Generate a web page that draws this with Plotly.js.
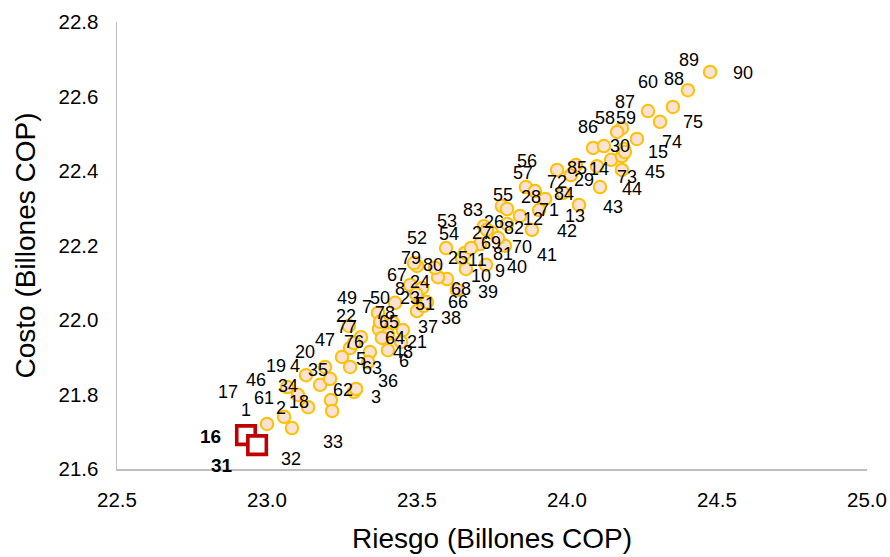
<!DOCTYPE html>
<html>
<head>
<meta charset="utf-8">
<script src="https://cdn.plot.ly/plotly-3.0.1.min.js"></script>
<style>html,body{margin:0;padding:0;background:#fff}#chart{width:890px;height:557px}</style>
</head>
<body>
<div id="chart"></div>
<script>
// ---- data ----
const escenarios = [1,2,3,4,5,6,7,8,9,10,11,12,13,14,15,16,17,18,19,20,21,22,23,24,25,26,27,28,29,30,
  31,32,33,34,35,36,37,38,39,40,41,42,43,44,45,46,47,48,49,50,51,52,53,54,55,56,57,58,59,60,
  61,62,63,64,65,66,67,68,69,70,71,72,73,74,75,76,77,78,79,80,81,82,83,84,85,86,87,88,89,90];
const riesgo = [23.000,23.137,23.290,23.193,23.277,23.343,23.420,23.517,23.663,23.600,
  23.650,23.843,24.013,24.147,24.183,22.930,23.057,23.213,23.130,23.250,
  23.447,23.370,23.510,23.477,23.660,23.800,23.723,23.927,24.030,24.087,
  22.967,23.083,23.217,23.177,23.277,23.297,23.453,23.500,23.633,23.730,
  23.793,23.883,24.040,24.110,24.183,23.067,23.313,23.403,23.273,23.427,
  23.523,23.500,23.597,23.750,23.783,23.863,23.893,24.123,24.190,24.270,
  23.103,23.210,23.337,23.373,23.403,23.533,23.497,23.570,23.770,23.710,
  23.907,23.967,24.193,24.233,24.310,23.290,23.377,23.383,23.490,23.560,
  23.680,23.800,23.733,23.987,24.100,24.183,24.167,24.353,24.403,24.477];
const costo = [21.721,21.766,21.807,21.874,21.925,21.914,21.992,22.086,22.137,22.110,
  22.166,22.279,22.389,22.430,22.440,21.691,21.740,21.785,21.852,21.901,
  21.941,22.019,22.054,22.094,22.180,22.258,22.252,22.325,22.416,22.462,
  21.664,21.710,21.756,21.826,21.874,21.815,21.973,22.024,22.081,22.148,
  22.199,22.242,22.309,22.357,22.403,21.820,21.954,21.919,21.984,22.046,
  22.038,22.145,22.193,22.234,22.306,22.357,22.346,22.467,22.459,22.561,
  21.799,21.842,21.887,21.976,21.962,22.048,22.070,22.115,22.220,22.204,
  22.295,22.403,22.451,22.486,22.532,21.938,21.995,21.952,22.153,22.140,
  22.193,22.298,22.242,22.341,22.413,22.515,22.505,22.572,22.617,22.666];
const destacados = [16, 31];
const xTicks = [22.5, 23.0, 23.5, 24.0, 24.5, 25.0];
const yTicks = [21.6, 21.8, 22.0, 22.2, 22.4, 22.6, 22.8];
const xTitle = 'Riesgo (Billones COP)';
const yTitle = 'Costo (Billones COP)';

// ---- label placement (style: pixel offsets of each data label from its marker) ----
const labelDx = [-21,-27,22,-30,11,34,-26,-22,34,34, 15,13,4,-12,36,-36,-56,-32,-30,-37,
  16,-32,-10,10,-7,-13,-2,-14,8,27, -35,-1,1,-32,-32,32,25,34,31,31,
  42,35,34,32,33,-31,-36,15,-2,-15, 1,0,1,-43,1,1,-12,1,2,0,
  -34,13,4,16,1,31,-19,23,-7,42, 10,0,2,35,33,0,-33,3,-3,-2,
  32,7,-14,1,-20,-34,8,1,1,33];
const labelDy = [-14,1,5,-1,11,9,-16,1,2,-3, 2,3,41,9,-4,1,-25,2,-9,-5,
  0,3,-2,-3,5,-2,7,-2,15,-2, 20,31,31,1,3,-8,-3,7,2,2,
  9,1,2,2,2,-7,3,2,-28,-5, -2,-28,-27,1,-11,-26,-18,-28,-31,-29,
  3,11,6,9,-12,0,-19,12,5,3, 0,12,25,3,0,-1,5,-25,-5,-3,
  6,19,-20,1,2,-1,-30,-28,-30,1];

const isSel = escenarios.map(e => destacados.includes(e));
const normal = {x:[], y:[], t:[]}, sel = {x:[], y:[], t:[]};
escenarios.forEach((e,i) => {
  const g = isSel[i] ? sel : normal;
  g.x.push(riesgo[i]); g.y.push(costo[i]); g.t.push(e);
});

const traces = [
  {type:'scatter', mode:'markers', x:normal.x, y:normal.y, text:normal.t, hoverinfo:'text+x+y',
   marker:{symbol:'circle', size:12.5, color:'#FBE2D5', line:{color:'#FFC000', width:2}}, showlegend:false},
  {type:'scatter', mode:'markers', x:sel.x, y:sel.y, text:sel.t, hoverinfo:'text+x+y',
   marker:{symbol:'square', size:18.5, color:'#FFFFFF', line:{color:'#C00000', width:3.6}}, showlegend:false}
];

const FONT = 'Liberation Sans, Arial, sans-serif';
const annotations = escenarios.map((e,i) => ({
  x: riesgo[i], y: costo[i], xref:'x', yref:'y',
  text: isSel[i] ? '<b>'+e+'</b>' : String(e),
  showarrow:false, xanchor:'center', yanchor:'middle',
  xshift: labelDx[i], yshift: -labelDy[i],
  font:{family:FONT, size: isSel[i] ? 19 : 18, color:'#000'}
}));

const layout = {
  width:890, height:557,
  margin:{l:117, r:23, t:22, b:88, pad:0},
  paper_bgcolor:'#fff', plot_bgcolor:'#fff',
  font:{family:FONT, color:'#000'},
  xaxis:{range:[22.5,25.0], tickvals:xTicks, ticktext:xTicks.map(v=>v.toFixed(1)),
    showgrid:false, zeroline:false, showline:true, linecolor:'#BFBFBF', linewidth:1.5,
    ticks:'', ticklabelstandoff:12, tickfont:{size:20.5, color:'#000'},
    title:{text:xTitle, font:{size:28, color:'#000'}, standoff:18}},
  yaxis:{range:[21.6,22.8], tickvals:yTicks, ticktext:yTicks.map(v=>v.toFixed(1)),
    showgrid:false, zeroline:false, showline:true, linecolor:'#BFBFBF', linewidth:1.5,
    ticks:'', ticklabelstandoff:13, tickfont:{size:20.5, color:'#000'},
    title:{text:yTitle, font:{size:28, color:'#000'}, standoff:14}},
  annotations: annotations
};

Plotly.newPlot('chart', traces, layout, {staticPlot:true, displayModeBar:false});
</script>
</body>
</html>
